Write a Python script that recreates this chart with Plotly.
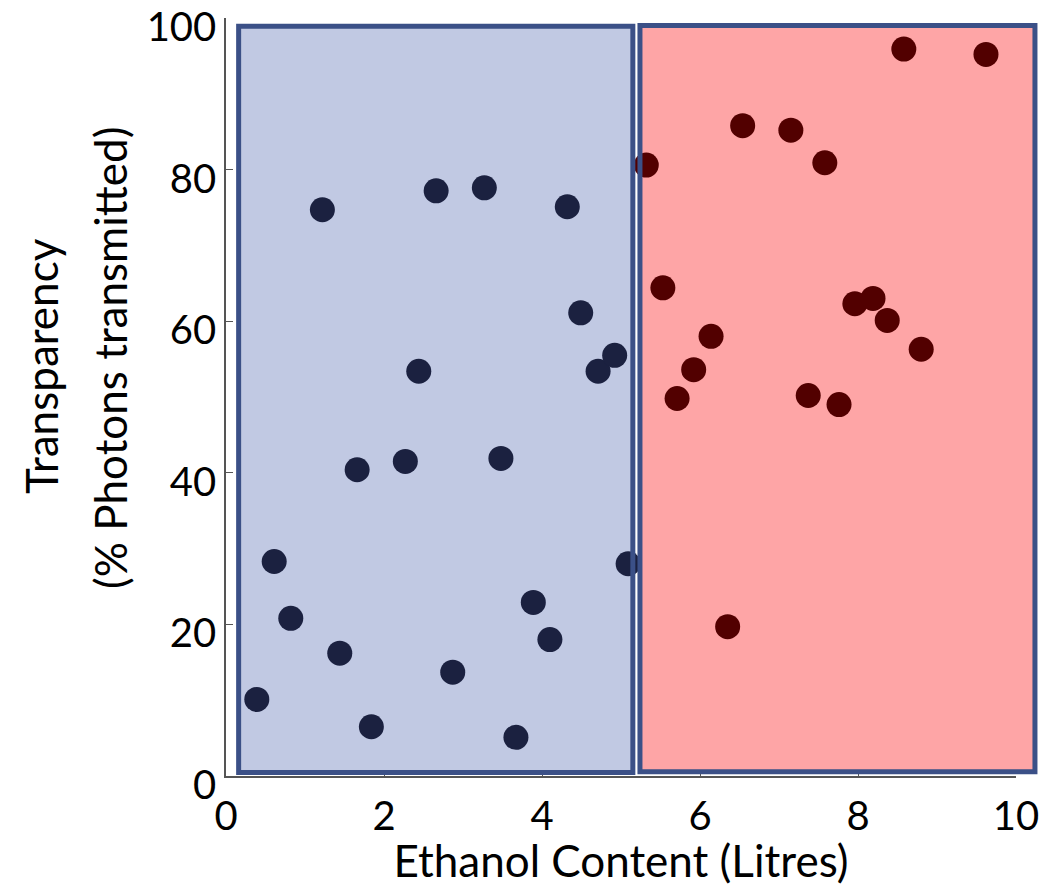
import plotly.graph_objects as go

# Low ethanol group (blue region)
low_x = [0.39, 0.61, 0.82, 1.22, 1.44, 1.66, 1.84, 2.27, 2.44, 2.66, 2.87,
         3.27, 3.48, 3.67, 3.89, 4.10, 4.32, 4.49, 4.71, 4.92, 5.09]
low_y = [10.1, 28.3, 20.8, 74.7, 16.2, 40.4, 6.5, 41.5, 53.4, 77.2, 13.7,
         77.6, 41.9, 5.1, 22.9, 18.0, 75.1, 61.1, 53.4, 55.5, 28.0]

# High ethanol group (red region)
high_x = [5.32, 5.53, 5.71, 5.92, 6.14, 6.35, 6.54, 7.15, 7.37, 7.58, 7.76,
          7.96, 8.19, 8.37, 8.58, 8.80, 9.62]
high_y = [80.6, 64.4, 49.8, 53.6, 58.0, 19.7, 85.8, 85.2, 50.2, 80.9, 49.0,
          62.3, 63.0, 60.1, 95.9, 56.3, 95.2]

x_ticks = [0, 2, 4, 6, 8, 10]
y_ticks = [0, 20, 40, 60, 80, 100]

FONT = "Lato"
BORDER = "#3b5087"

fig = go.Figure()

fig.add_trace(go.Scatter(
    x=low_x, y=low_y, mode="markers",
    marker=dict(size=25, color="#1b2140", line=dict(width=0)),
    showlegend=False, hoverinfo="skip"))
fig.add_trace(go.Scatter(
    x=high_x, y=high_y, mode="markers",
    marker=dict(size=25, color="#520000", line=dict(width=0)),
    showlegend=False, hoverinfo="skip"))

# Region boxes; x in paper fraction so the right box may run past the axis end
regions = [
    dict(x0=0.016, x1=0.515, y0=0.46, y1=98.9, fill="#c1c9e3"),
    dict(x0=0.524, x1=1.024, y0=0.55, y1=99.0, fill="#fea5a6"),
]
for r in regions:
    # filled body under the points
    fig.add_shape(type="rect", xref="paper", yref="y",
                  x0=r["x0"], x1=r["x1"], y0=r["y0"], y1=r["y1"],
                  fillcolor=r["fill"], line=dict(width=0), layer="below")
    # outline drawn on top
    fig.add_shape(type="rect", xref="paper", yref="y",
                  x0=r["x0"], x1=r["x1"], y0=r["y0"], y1=r["y1"],
                  fillcolor="rgba(0,0,0,0)", line=dict(color=BORDER, width=5),
                  layer="above")

fig.update_xaxes(
    range=[0, 10], tickvals=x_ticks, ticktext=[str(v) for v in x_ticks],
    ticks="inside", ticklen=6, tickcolor="#555555", tickwidth=1,
    showline=True, linecolor="#555555", linewidth=1.5,
    showgrid=False, zeroline=False, ticklabeloverflow="allow",
    automargin=False, ticklabelstandoff=4,
    tickfont=dict(family=FONT, size=40, color="black"),
    title=dict(text="Ethanol Content (Litres)",
               font=dict(family=FONT, size=44, color="black"), standoff=0),
)
fig.update_yaxes(
    range=[0, 100], tickvals=y_ticks, ticktext=[str(v) for v in y_ticks],
    ticks="inside", ticklen=7, tickcolor="#555555", tickwidth=1,
    showline=True, linecolor="#555555", linewidth=1.5,
    showgrid=False, zeroline=False, ticklabeloverflow="allow",
    automargin=False, ticklabelshift=9,
    tickfont=dict(family=FONT, size=40, color="black"),
)

fig.add_annotation(text="Transparency", xref="paper", yref="paper",
                   x=-0.234, y=0.541, xanchor="center", yanchor="middle",
                   textangle=-90, showarrow=False,
                   font=dict(family=FONT, size=44, color="black"))
fig.add_annotation(text="(% Photons transmitted)", xref="paper", yref="paper",
                   x=-0.146, y=0.551, xanchor="center", yanchor="middle",
                   textangle=-90, showarrow=False,
                   font=dict(family=FONT, size=44, color="black"))

fig.update_layout(
    width=1051, height=886,
    margin=dict(l=226, r=35, t=18, b=110, autoexpand=False),
    paper_bgcolor="white", plot_bgcolor="white",
)

fig.write_html("out.html")
